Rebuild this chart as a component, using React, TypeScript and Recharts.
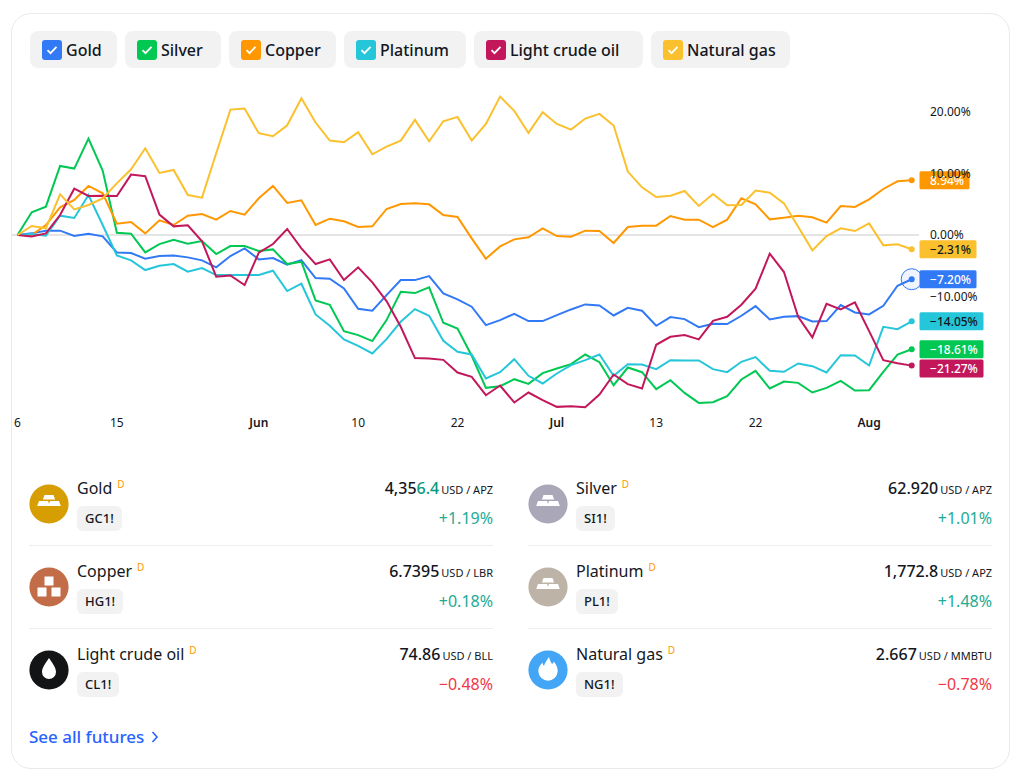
import { LineChart, Line, XAxis, YAxis, ReferenceLine } from 'recharts';

const FONT = '"Noto Sans", sans-serif';
const TEXT = '#131722';

const dates = [
  'May 6', 'May 7', 'May 8', 'May 11', 'May 12', 'May 13', 'May 14', 'May 15', 'May 18', 'May 19', 'May 20', 'May 21', 'May 22',
  'May 26', 'May 27', 'May 28', 'May 29', 'Jun 1', 'Jun 2', 'Jun 3', 'Jun 4', 'Jun 5', 'Jun 8', 'Jun 9', 'Jun 10', 'Jun 11', 'Jun 12',
  'Jun 15', 'Jun 16', 'Jun 17', 'Jun 18', 'Jun 22', 'Jun 23', 'Jun 24', 'Jun 25', 'Jun 26', 'Jun 29', 'Jun 30', 'Jul 1', 'Jul 2',
  'Jul 6', 'Jul 7', 'Jul 8', 'Jul 9', 'Jul 10', 'Jul 13', 'Jul 14', 'Jul 15', 'Jul 16', 'Jul 17', 'Jul 20', 'Jul 21', 'Jul 22',
  'Jul 23', 'Jul 24', 'Jul 27', 'Jul 28', 'Jul 29', 'Jul 30', 'Jul 31', 'Aug 3', 'Aug 4', 'Aug 5', 'Aug 6',
];

const goldValues = [
  0, 0.27, 0.71, 0.71, -0.16, 0.22, -0.22, -2.83, -2.93, -3.86, -3.42, -3.32, -3.64, -4.13, -5.27, -3.42, -2.17, -3.97, -3.75, -4.84, -4.08,
  -7.01, -7.12, -8.7, -12.01, -12.34, -9.78, -7.34, -7.34, -6.68, -9.51, -10.49, -11.68, -14.67, -13.86, -12.83, -14.02, -14.02, -13.04, -12.12,
  -11.3, -11.47, -13.1, -11.85, -12.34, -14.78, -13.37, -13.7, -15, -14.46, -14.51, -13.15, -11.58, -13.75, -13.32, -13.21, -14.08, -14.02,
  -11.41, -12.61, -12.93, -11.52, -8.26, -7.2,
];
const silverValues = [
  0, 3.7, 4.62, 11.25, 10.82, 15.71, 10.49, 0.38, 0.22, -2.83, -1.47, -0.76, -1.41, -0.98, -3.1, -1.79, -1.79, -2.61, -2.34, -4.73, -4.35,
  -10.65, -11.36, -15.65, -16.3, -17.28, -13.86, -9.24, -9.46, -8.53, -14.29, -15.22, -19.67, -24.89, -24.62, -23.48, -24.24, -22.5, -21.74,
  -21.03, -19.46, -20.71, -24.46, -21.58, -22.34, -25.11, -23.64, -25.71, -27.34, -27.23, -26.25, -23.53, -22.12, -25, -23.86, -24.08, -25.65,
  -24.89, -23.75, -25.33, -25.27, -22.28, -19.46, -18.61,
];
const copperValues = [
  0, 0, 1.63, 4.51, 5.71, 7.99, 6.79, 1.85, 2.12, 0.27, 2.39, 1.63, 3.15, 3.42, 2.5, 3.91, 3.32, 5.98, 7.99, 5.22, 5.65, 1.63, 2.66, 2.23,
  1.3, 1.41, 4.24, 5.05, 5.16, 5, 3.26, 2.93, -0.54, -3.86, -1.85, -0.71, -0.38, 1.09, -0.16, -0.27, 0.71, 0.65, -1.3, 1.3, 1.52, 1.52, 3.1,
  2.5, 2.5, 1.3, 2.5, 5.98, 5, 2.55, 2.83, 3.15, 2.88, 2.01, 4.73, 4.57, 5.82, 7.5, 8.75, 8.94,
];
const platinumValues = [
  0, 0.16, -0.11, 3.15, 2.77, 6.52, 1.63, -3.32, -4.13, -5.71, -5, -4.73, -5.98, -5.38, -6.52, -6.52, -6.52, -6.52, -5.82, -9.13, -7.93,
  -12.93, -14.78, -17.01, -18.04, -19.29, -16.96, -14.13, -12.07, -13.15, -17.23, -19.02, -19.46, -23.37, -22.34, -20.22, -22.93, -24.18,
  -22.55, -21.2, -20.38, -19.46, -22.93, -21.03, -21.09, -21.85, -20.38, -20.43, -20.43, -21.85, -22.34, -20.65, -19.89, -22.12, -22.28,
  -20.92, -21.36, -22.39, -19.57, -19.62, -21.25, -14.95, -15.33, -14.05,
];
const crudeValues = [
  0, -0.22, 0.27, 3.26, 7.55, 6.36, 6.41, 6.36, 9.84, 9.57, 3.32, 1.41, 1.58, -1.03, -6.79, -6.58, -8.15, -2.88, -1.47, 0.98, -2.17, -4.73,
  -3.97, -7.34, -5.27, -7.72, -10.76, -14.95, -20.05, -20.11, -20.33, -22.39, -23.1, -26.09, -24.51, -27.28, -25.65, -26.9, -27.99, -27.88,
  -28.04, -25.98, -22.72, -24.29, -25, -17.88, -16.58, -16.3, -17.01, -13.97, -13.32, -11.36, -8.75, -3.04, -6.03, -13.32, -16.68, -11.2,
  -12.12, -10.98, -15.65, -20.38, -20.87, -21.27,
];
const gasValues = [
  0, 1.47, 1.09, 6.63, 4.18, 4.89, 5.98, 8.42, 10.71, 14.13, 10.11, 10.6, 6.52, 6.09, 13.32, 20.43, 20.6, 16.58, 16.09, 17.88, 22.28, 18.32,
  15.38, 15.11, 16.74, 13.15, 14.4, 15.38, 18.75, 15.27, 18.53, 19.24, 15.38, 18.1, 22.55, 20.22, 16.63, 20, 18.1, 17.17, 18.97, 19.73, 17.83,
  10.33, 7.77, 6.2, 6.41, 7.17, 4.73, 6.68, 4.84, 4.89, 7.23, 6.9, 5.16, 1.36, -2.5, -0.16, 1.09, 0.65, 1.9, -1.68, -1.52, -2.31,
];

const tickDates = ['May 6', 'May 15', 'Jun 1', 'Jun 10', 'Jun 22', 'Jul 1', 'Jul 13', 'Jul 22', 'Aug 3'];
const tickLabels = ['6', '15', 'Jun', '10', '22', 'Jul', '13', '22', 'Aug'];
const monthLabels = ['Jun', 'Jul', 'Aug'];
const yTicks = [20, 10, 0, -10];

const seriesNames = ['Gold', 'Silver', 'Copper', 'Platinum', 'Light crude oil', 'Natural gas'];
const seriesColors = ['#3179f5', '#00c853', '#ff9800', '#26c6da', '#c2185b', '#fbc02d'];
const seriesValues = [goldValues, silverValues, copperValues, platinumValues, crudeValues, gasValues];
const endLabels = ['\u22127.20%', '\u221218.61%', '8.94%', '\u221214.05%', '\u221221.27%', '\u22122.31%'];
const endLabelText = ['#fff', '#fff', '#fff', TEXT, '#fff', TEXT];
const chipWidths = [87, 96, 107, 122, 169, 139];

const chartData = dates.map((date, i) => {
  const row: Record<string, number | string> = { date };
  seriesNames.forEach((name, s) => { row[name] = seriesValues[s][i]; });
  return row;
});

function XTick({ x, y, payload }: any) {
  const label = tickLabels[tickDates.indexOf(payload.value)];
  return (
    <text x={x} y={y + 9} textAnchor="middle" fontSize={12} fontFamily={FONT} fill={TEXT}
      fontWeight={monthLabels.includes(label) ? 600 : 400}>{label}</text>
  );
}

function formatY(v: number) {
  return (v < 0 ? '\u2212' : '') + Math.abs(v).toFixed(2) + '%';
}

function endDot(s: number) {
  return (props: any) => {
    const { cx, cy, index } = props;
    if (index !== dates.length - 1) return <g key={index} />;
    const text = endLabels[s];
    const w = text.length >= 7 ? 64 : text.length === 6 ? 57 : 50;
    const boxY = seriesNames[s] === 'Light crude oil' ? cy + 3 : cy;
    return (
      <g key={index}>
        {seriesNames[s] === 'Gold' && <circle cx={cx} cy={cy} r={10.5} fill="#3179f5" fillOpacity={0.08} stroke="#3179f5" strokeWidth={1} />}
        <circle cx={cx} cy={cy} r={3} fill={seriesColors[s]} />
        <rect x={919.5} y={boxY - 9} width={w} height={18} rx={1.5} fill={seriesColors[s]} />
        <text x={930} y={boxY + 4.5} fontSize={12} fontWeight={500} fontFamily={FONT} fill={endLabelText[s]}>{text}</text>
      </g>
    );
  };
}

function Check({ color }: { color: string }) {
  return (
    <svg width={20} height={20} viewBox="0 0 20 20" style={{ flex: 'none' }}>
      <rect width={20} height={20} rx={3} fill={color} />
      <path d="M5.5 10.2l3 3 6-6.4" fill="none" stroke="#fff" strokeWidth={1.8} />
    </svg>
  );
}

const bars = (
  <g fill="#fff">
    <path d="M15.5 11h9l1.6 4.5H13.9z" />
    <path d="M10 17h9l1.8 5H8.2z" />
    <path d="M21 17h9l1.8 5H19.2z" />
  </g>
);
const blocks = (
  <g fill="#fff">
    <rect x={15.5} y={9.5} width={9} height={9} />
    <rect x={8.5} y={20.5} width={9} height={9} />
    <rect x={22.5} y={20.5} width={9} height={9} />
  </g>
);
const drop = <path d="M20 8c3 5 7 9 7 14a7 7 0 0 1-14 0c0-5 4-9 7-14z" fill="#fff" />;
const flame = <path d="M21 7c1 4 2 5 3 7 1-.7 1.5-1.6 1.7-2.6 2.5 3 4 6 4 9.6a9.7 9.7 0 0 1-19.4 0c0-4 2.4-6.5 4.2-8.6.2 1.5.6 2.6 1.5 3.4C17 12.500 19 10 21 7z" fill="#fff" />;

const rowNames = ['Gold', 'Silver', 'Copper', 'Platinum', 'Light crude oil', 'Natural gas'];
const rowSymbols = ['GC1!', 'SI1!', 'HG1!', 'PL1!', 'CL1!', 'NG1!'];
const rowPrices = ['4,356.4', '62.920', '6.7395', '1,772.8', '74.86', '2.667'];
const rowUnits = ['USD / APZ', 'USD / APZ', 'USD / LBR', 'USD / APZ', 'USD / BLL', 'USD / MMBTU'];
const rowChanges = ['+1.19%', '+1.01%', '+0.18%', '+1.48%', '\u22120.48%', '\u22120.78%'];
const rowIconColors = ['#d69e00', '#aaa8b8', '#c26d48', '#bdb3a6', '#131416', '#42a5f5'];
const rowIcons = [bars, bars, blocks, bars, drop, flame];

function Row({ i }: { i: number }) {
  const left = i % 2 === 0 ? 29 : 528;
  const top = 462 + Math.floor(i / 2) * 83.2;
  const up = rowChanges[i].startsWith('+');
  const price = rowPrices[i];
  return (
    <div style={{ position: 'absolute', left, top, width: 464, height: 83 }}>
      <svg width={40} height={40} viewBox="0 0 40 40" style={{ position: 'absolute', left: 0, top: 22 }}>
        <circle cx={20} cy={20} r={19.6} fill={rowIconColors[i]} />
        {rowIcons[i]}
      </svg>
      <div style={{ position: 'absolute', left: 48, top: 14, fontSize: 16, lineHeight: '24px', whiteSpace: 'nowrap', color: TEXT }}>
        {rowNames[i]}
        <span style={{ fontSize: 10, color: '#ff9800', marginLeft: 5, position: 'relative', top: -6 }}>D</span>
      </div>
      <div style={{ position: 'absolute', left: 48, top: 44, height: 25, padding: '0 8px', background: '#f2f2f2', borderRadius: 6, fontSize: 13, fontWeight: 500, lineHeight: '25px', color: TEXT }}>
        {rowSymbols[i]}
      </div>
      <div style={{ position: 'absolute', right: 0, top: 14, lineHeight: '24px', whiteSpace: 'nowrap', color: TEXT }}>
        {i === 0
          ? <span style={{ fontSize: 16, fontWeight: 500 }}>4,35<span style={{ color: '#089981' }}>6.4</span></span>
          : <span style={{ fontSize: 16, fontWeight: 500 }}>{price}</span>}
        <span style={{ fontSize: 11, marginLeft: 2 }}>{rowUnits[i]}</span>
      </div>
      <div style={{ position: 'absolute', right: 0, top: 44, lineHeight: '24px', fontSize: 16, color: up ? '#22ab94' : '#f23645' }}>
        {rowChanges[i]}
      </div>
      {i < 4 && <div style={{ position: 'absolute', left: 0, right: 0, top: 83, height: 1, background: '#eeeeee' }} />}
    </div>
  );
}

export default function App() {
  return (
    <div style={{ position: 'absolute', left: 0, top: 0, width: 1024, height: 783, background: '#fff', fontFamily: FONT, overflow: 'hidden' }}>
      <div style={{ position: 'absolute', left: 11, top: 13, width: 997, height: 754, border: '1px solid #e9e9e9', borderRadius: 20 }} />

      <div style={{ position: 'absolute', left: 30, top: 31, display: 'flex', gap: 8 }}>
        {seriesNames.map((name, i) => (
          <div key={name} style={{ width: chipWidths[i], height: 37, boxSizing: 'border-box', paddingLeft: 12, display: 'flex', alignItems: 'center', gap: 4, background: '#f2f2f2', borderRadius: 8, fontSize: 16, fontWeight: 500, color: TEXT, whiteSpace: 'nowrap' }}>
            <Check color={seriesColors[i]} />
            {name}
          </div>
        ))}
      </div>

      <div style={{ position: 'absolute', left: 0, top: 0 }}>
        <LineChart width={1024} height={450} data={chartData} margin={{ top: 80, right: 0, left: 12, bottom: 0 }}>
          <XAxis dataKey="date" ticks={tickDates} interval={0} height={40} axisLine={false} tickLine={false} padding={{ left: 5.5, right: 7.3 }} tick={<XTick />} />
          <YAxis orientation="right" width={105} domain={[-28.5, 25.25]} ticks={yTicks} interval={0} axisLine={false} tickLine={false} tickSize={0} tickMargin={11}
            tickFormatter={formatY} tick={{ fontSize: 12, fill: TEXT, fontFamily: FONT }} />
          <ReferenceLine y={0} stroke="#c9c9c9" strokeWidth={1} />
          {seriesNames.map((name, s) => (
            <Line key={name} dataKey={name} stroke={seriesColors[s]} strokeWidth={2} type="linear" isAnimationActive={false} dot={endDot(s)} activeDot={false} />
          ))}
        </LineChart>
      </div>

      {rowNames.map((_, i) => <Row key={i} i={i} />)}

      <div style={{ position: 'absolute', left: 29, top: 725, fontSize: 17, fontWeight: 500, lineHeight: '24px', color: '#2962ff', whiteSpace: 'nowrap' }}>
        See all futures
        <svg width={8} height={12} viewBox="0 0 8 12" style={{ marginLeft: 7 }}>
          <path d="M1.500 1l4.500 5-4.500 5" fill="none" stroke="#2962ff" strokeWidth={1.6} />
        </svg>
      </div>
    </div>
  );
}
